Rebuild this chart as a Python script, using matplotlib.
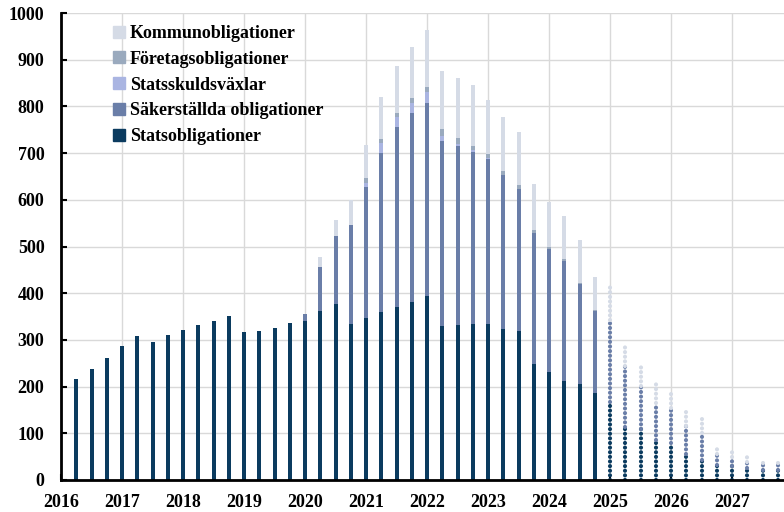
import numpy as np
import matplotlib.pyplot as plt
from matplotlib.lines import Line2D

# Quarterly holdings, 2016 Q2 .. 2027 Q4 (forecast from 2025)
quarters = np.arange(2016.25, 2027.76, 0.25)
forecast_start = 2025.0

statsobligationer = [216, 238, 262, 286, 308, 295, 311, 321, 331, 340, 351, 317, 320, 326, 336,
                     341, 362, 376, 334, 348, 360, 370, 381, 393, 329, 332, 334, 334, 324, 319,
                     249, 231, 212, 206, 187,
                     168, 114, 110, 86, 79, 55, 43, 32, 29, 26, 21, 21]
sakerstallda = [0, 0, 0, 0, 0, 0, 0, 0, 0, 0, 0, 0, 0, 0, 0,
                14, 95, 147, 212, 280, 340, 387, 405, 415, 398, 384, 369, 354, 330, 305,
                280, 264, 258, 213, 174,
                175, 131, 92, 78, 75, 61, 57, 24, 20, 13, 16, 16]
statsskuldsvaxlar = [0] * 19 + [8, 21, 20, 21, 22, 10, 3, 3, 1, 0, 0, 0, 0, 0, 0, 0] + [0] * 12
foretagsobligationer = [0] * 19 + [10, 9, 10, 11, 11, 14, 13, 10, 9, 8, 8, 7, 4, 4, 3, 2] + [0] * 12
kommunobligationer = [0, 0, 0, 0, 0, 0, 0, 0, 0, 0, 0, 0, 0, 0, 0,
                      0, 20, 34, 54, 72, 90, 100, 110, 123, 125, 128, 130, 116, 115, 113,
                      98, 96, 92, 93, 72,
                      70, 47, 44, 50, 32, 31, 32, 10, 10, 10, 8, 9]

series = [
    ("Statsobligationer", statsobligationer, "#0b3b5f"),
    ("Säkerställda obligationer", sakerstallda, "#6a7ea8"),
    ("Statsskuldsväxlar", statsskuldsvaxlar, "#aab5e2"),
    ("Företagsobligationer", foretagsobligationer, "#9aaabe"),
    ("Kommunobligationer", kommunobligationer, "#d5dbe6"),
]

plt.rcParams['font.family'] = ['Liberation Serif', 'DejaVu Serif']
plt.rcParams['font.weight'] = 'bold'

fig = plt.figure(figsize=(7.84, 5.12), dpi=100)
ax = fig.add_axes([0.078, 0.0625, 0.922, 0.912])

hist = quarters < forecast_start
fc = ~hist
bottom = np.zeros(len(quarters))
for name, vals, col in series:
    vals = np.array(vals, dtype=float)
    ax.bar(quarters[hist], vals[hist], width=0.065, bottom=bottom[hist], color=col, zorder=3)
    # forecast bars drawn as dotted columns
    ax.vlines(quarters[fc], bottom[fc], bottom[fc] + vals[fc], colors=col, linewidth=3.0,
              linestyles=(0, (0.01, 1.1)), capstyle='round', zorder=3)
    bottom += vals

ax.set_xlim(2016, 2027.85)
ax.set_ylim(0, 1000)
ax.set_xticks(np.arange(2016, 2028))
ax.set_xticklabels([str(y) for y in range(2016, 2028)])
ax.set_yticks(np.arange(0, 1001, 100))
ax.tick_params(axis='both', direction='in', length=4, width=1.5, labelsize=13)
ax.tick_params(axis='x', pad=10)
ax.tick_params(axis='y', pad=12)
ax.grid(True, color='#d9d9d9', linewidth=1, zorder=0)
for s in ['top', 'right']:
    ax.spines[s].set_visible(False)
for s in ['left', 'bottom']:
    ax.spines[s].set_linewidth(2)
    ax.spines[s].set_zorder(4)

handles = [Line2D([], [], marker='s', linestyle='none', markersize=9, color=col)
           for _, _, col in series[::-1]]
labels = [name for name, _, _ in series[::-1]]
ax.legend(handles, labels, loc='upper left', bbox_to_anchor=(0.05, 0.998), frameon=False,
          fontsize=13, handletextpad=0.0, handlelength=1.2, labelspacing=0.49, borderaxespad=0.2)

fig.savefig("out.png", dpi=100)
